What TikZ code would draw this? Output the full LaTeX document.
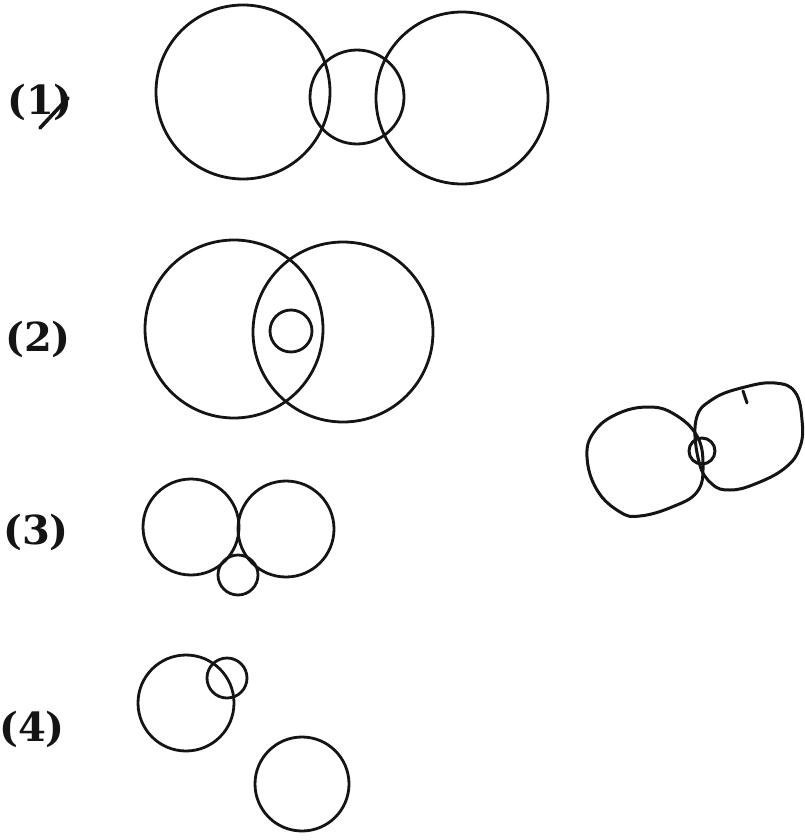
\documentclass[tikz,border=0pt]{standalone}
\usepackage{fontspec}
\usepackage{tikz}
\usetikzlibrary{positioning}
\newfontfamily\labelfont{DejaVu Serif}
\definecolor{setink}{RGB}{20,20,20}
\tikzset{
  setring/.style={draw=setink, line width=2.8pt},
  sketchring/.style={draw=setink, line width=3pt, line join=round},
  itemlabel/.style={text=setink, font=\labelfont\fontsize{40}{44}\selectfont\bfseries, inner sep=0pt},
}

\begin{document}
\begin{tikzpicture}[x=1pt, y=-1pt]
  \useasboundingbox (0,0) rectangle (805,840);
  % option labels
  \node[itemlabel] (labone)   at (40,102) {(1)};
  \node[itemlabel] (labtwo)   at (38,339) {(2)};
  \node[itemlabel] (labthree) at (36,532) {(3)};
  \node[itemlabel] (labfour)  at (32,729) {(4)};
  \draw[setink, line width=3.6pt, line cap=round] (40,128) -- (68,98);
  % (1)
  \draw[setring] (243,92) circle (87);
  \draw[setring] (357,97) circle (47);
  \draw[setring] (462,98) circle (86);
  % (2)
  \draw[setring] (234,329) circle (89);
  \draw[setring] (343,332) circle (90);
  \draw[setring] (291,331) circle (21);
  % (3)
  \draw[setring] (191,527) circle (48);
  \draw[setring] (286,529) circle (48);
  \draw[setring] (238,575) circle (20);
  % (4)
  \draw[setring] (186,703) circle (48);
  \draw[setring] (227,678) circle (20);
  \draw[setring] (302,784) circle (47);
  % hand sketch
  \draw[sketchring] plot[smooth cycle, tension=0.7] coordinates {
    (648,407) (617,414) (594,432) (587,457) (597,490) (620,512) (640,516)
    (672,507) (697,492) (703,466) (697,436) (674,414)};
  \draw[sketchring] plot[smooth cycle, tension=0.7] coordinates {
    (696,420) (713,399) (745,387) (775,383) (795,392) (802,420) (800,447)
    (785,468) (755,484) (730,490) (712,484) (699,462)};
  \draw[sketchring] (702,451) circle (13);
  \draw[sketchring, line cap=round] (743,391) -- (747,403);
\end{tikzpicture}
\end{document}
